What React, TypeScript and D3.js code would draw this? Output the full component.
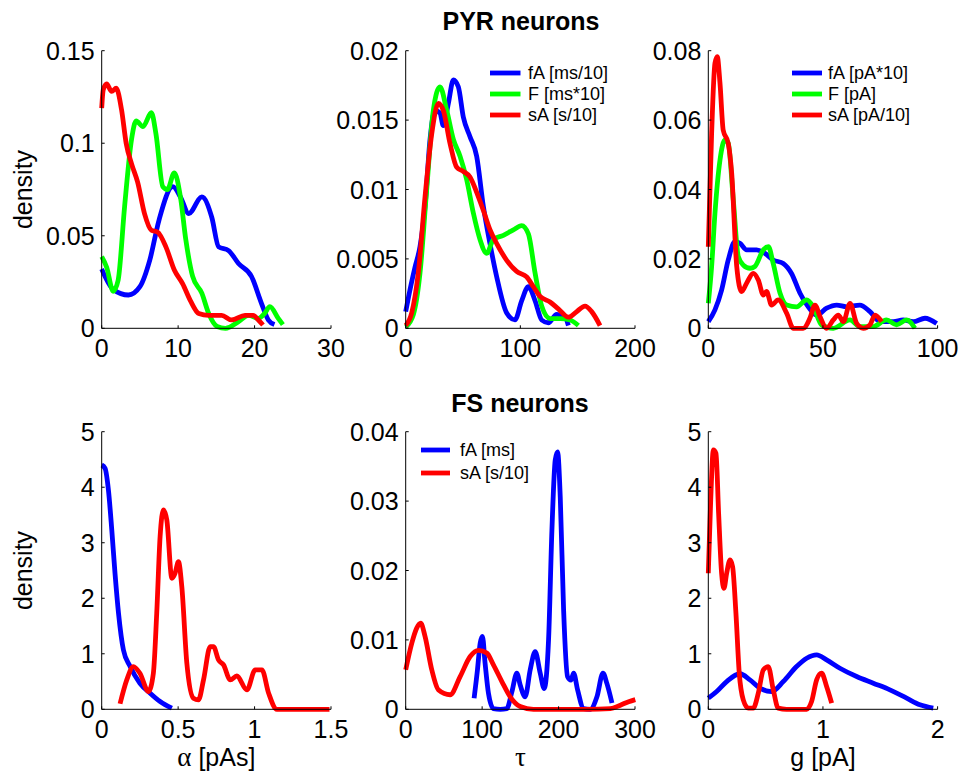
import React from "react";
import * as d3 from "d3";

type Pt = [number, number];

// ---------- PYR: alpha ----------
const pyrAlphaFA: Pt[] = [[0,0.032],[1.5,0.021],[3.5,0.018],[5,0.0225],[6.3,0.037],[7.5,0.0585],[9.3,0.0765],[10.3,0.071],[11.4,0.062],[13.1,0.071],[14.4,0.06],[15.3,0.044],[16.6,0.042],[17.9,0.035],[19.6,0.028],[20.9,0.0135],[21.8,0.0045],[22.6,0.002]];
const pyrAlphaF: Pt[] = [[0,0.0387],[0.65,0.033],[1.5,0.02],[2.15,0.026],[3,0.066],[3.9,0.102],[4.5,0.112],[5.4,0.109],[6.5,0.1165],[7.1,0.105],[8,0.0765],[8.6,0.075],[9.5,0.084],[10.3,0.071],[11,0.048],[11.9,0.028],[13.1,0.019],[14,0.008],[15.1,0.001],[16.2,0],[17.9,0.0036],[19.2,0.007],[20.5,0.0054],[21.3,0.008],[22,0.0117],[23.1,0.0054],[23.7,0.002]];
const pyrAlphaSA: Pt[] = [[0,0.119],[0.2,0.1288],[0.65,0.132],[1.3,0.128],[1.9,0.1297],[2.6,0.118],[3.2,0.1],[3.9,0.089],[4.7,0.079],[5.6,0.062],[6.5,0.053],[7.3,0.052],[8.4,0.044],[9.5,0.0315],[10.6,0.024],[11.6,0.015],[12.7,0.008],[14,0.007],[15.7,0.007],[17,0.0045],[18.75,0.007],[19.8,0.007],[20.5,0.0045],[21.1,0.0018]];

// ---------- PYR: tau ----------
const pyrTauFA: Pt[] = [[0,0.0012],[3.8,0.0028],[8.1,0.0044],[12.5,0.0059],[16.9,0.0088],[21.2,0.0136],[25.6,0.0157],[29.9,0.0155],[32.8,0.0146],[37.2,0.0162],[41.6,0.0179],[45.9,0.0174],[50.3,0.0152],[56.1,0.0138],[61.9,0.0124],[67.7,0.0088],[73.5,0.0061],[79.4,0.0037],[88.1,0.0011],[95.3,0.0006],[101.2,0.002],[107,0.003],[112.8,0.002],[118.6,0.0006],[124.4,0.0004],[131.7,0.001],[139,0.0008],[141.9,0.0002]];
const pyrTauF: Pt[] = [[0,0.0001],[6.7,0.001],[12.5,0.004],[18.3,0.01],[24.1,0.0157],[29.9,0.0174],[35.8,0.0157],[41.6,0.0136],[47.4,0.0124],[53.2,0.0107],[59,0.0083],[64.8,0.0064],[70.6,0.0054],[76.5,0.0064],[85.2,0.0067],[93.9,0.0071],[101.2,0.0074],[107,0.0068],[112.8,0.004],[118.6,0.0016],[125.9,0.0007],[134.6,0.0007],[143.3,0.0006],[150.6,0.0002]];
const pyrTauSA: Pt[] = [[0,0.0002],[5.2,0.0011],[11,0.004],[16.9,0.0095],[22.7,0.014],[28.5,0.0162],[32.8,0.0157],[38.7,0.0133],[44.5,0.0116],[50.3,0.0113],[56.1,0.0109],[61.9,0.0098],[67.7,0.0085],[73.5,0.0071],[79.4,0.0061],[88.1,0.0049],[96.8,0.0041],[105.5,0.0037],[111.3,0.003],[117.2,0.0023],[125.9,0.0019],[133.1,0.0014],[141.9,0.0008],[149.1,0.0012],[156.4,0.0016],[162.2,0.0012],[169.5,0.0002]];

// ---------- PYR: g ----------
const pyrGFA: Pt[] = [[0,0.0019],[2.9,0.0053],[5.8,0.011],[8.7,0.0197],[11.6,0.025],[13.8,0.0245],[16.7,0.0226],[21.1,0.0226],[24.7,0.0216],[28.3,0.0197],[32.7,0.0187],[36.3,0.0158],[40,0.0101],[43.6,0.0062],[47.2,0.0038],[51.6,0.0058],[56,0.0067],[60.3,0.0062],[66.1,0.0067],[70.5,0.0048],[74.9,0.0019],[80.7,0.0019],[85,0.0024],[89.4,0.0019],[94.5,0.0029],[99.6,0.0014]];
const pyrGF: Pt[] = [[0,0.0072],[1.45,0.0178],[2.9,0.0331],[5.1,0.0485],[7.3,0.0543],[8.7,0.0533],[10.9,0.037],[13.1,0.0206],[15.3,0.0182],[18.2,0.0173],[20.3,0.0178],[24,0.0226],[26.2,0.0235],[28.3,0.0187],[31.3,0.0101],[34.2,0.0067],[38.5,0.0062],[42.9,0.0082],[45.8,0.0062],[49.4,0.001],[54.5,0],[61.8,0.0024],[66.1,0.0005],[71.9,0.0005],[77.7,0.0024],[82.1,0.001],[86.5,0.0024],[90.1,0]];
const pyrGSA: Pt[] = [[0,0.0235],[1.45,0.0562],[2.9,0.0764],[3.9,0.0783],[5.1,0.0706],[6.5,0.0571],[8.7,0.0533],[10.2,0.0447],[12.4,0.0178],[14.5,0.0106],[16.7,0.013],[19.6,0.0158],[21.8,0.0139],[24,0.0096],[25.4,0.0106],[27.6,0.0067],[30.5,0.0082],[34.2,0.0043],[37.1,0],[41.4,0],[44.3,0.0029],[46.5,0.0067],[48.7,0.0034],[51.6,0],[54.5,0.0024],[56.7,0.0038],[58.9,0.0019],[61.8,0.0072],[64.7,0.0014],[67.6,0],[70.5,0.001],[72.7,0.0038],[75.6,0.0019]];

// ---------- FS: alpha ----------
const fsAlphaFA: Pt[] = [[0,4.4],[0.022,4.34],[0.044,3.95],[0.066,3.23],[0.087,2.45],[0.11,1.73],[0.142,1.07],[0.186,0.77],[0.25,0.47],[0.317,0.29],[0.382,0.14],[0.459,0.02]];
const fsAlphaSA: Pt[] = [[0.12,0.1],[0.164,0.53],[0.207,0.77],[0.25,0.65],[0.306,0.32],[0.338,0.65],[0.36,1.73],[0.382,3.11],[0.404,3.59],[0.426,3.41],[0.459,2.36],[0.48,2.45],[0.502,2.66],[0.524,2.21],[0.557,0.83],[0.6,0.2],[0.633,0.17],[0.666,0.53],[0.71,1.13],[0.731,1.13],[0.764,0.89],[0.797,0.8],[0.841,0.53],[0.884,0.6],[0.95,0.35],[1.004,0.71],[1.048,0.71],[1.092,0.29],[1.146,0],[1.255,0],[1.43,0],[1.49,0]];

// ---------- FS: tau ----------
const fsTauFA: Pt[] = [[89.5,0.0016],[93.9,0.0057],[97.4,0.0095],[100.4,0.0105],[103.9,0.0066],[108.3,0.0023],[114.8,0.0001],[123.6,0],[132.3,0.0001],[138.9,0.0025],[145.4,0.0052],[149.8,0.0035],[156.3,0.0018],[162.9,0.0057],[169.4,0.0083],[176,0.0052],[181.2,0.003],[186.9,0.01],[191.3,0.0258],[195.6,0.0359],[198.7,0.0371],[202.2,0.0306],[206.6,0.0143],[211.8,0.0047],[216.2,0.0042],[219.7,0.0052],[224.9,0.0028],[232.8,0.0001],[241.5,0],[250.2,0.0018],[258.1,0.0052],[263.3,0.0037],[269.9,0.0009]];
const fsTauSA: Pt[] = [[0,0.0057],[7.9,0.0095],[14.4,0.0117],[19.7,0.0124],[25.3,0.0105],[34.1,0.0057],[42.8,0.0028],[58.1,0.0021],[71.2,0.0047],[84.3,0.0076],[95.2,0.0085],[106.1,0.0081],[114.8,0.0064],[125.8,0.004],[136.7,0.0018],[149.8,0.0004],[167.2,0],[237.1,0],[267.7,0.0001],[280.8,0.0006],[291.7,0.0011],[300.4,0.0014]];

// ---------- FS: g ----------
const fsGFA: Pt[] = [[0,0.2],[0.073,0.32],[0.16,0.5],[0.276,0.64],[0.363,0.53],[0.45,0.38],[0.552,0.32],[0.654,0.5],[0.77,0.77],[0.858,0.92],[0.945,0.98],[1.032,0.89],[1.148,0.74],[1.294,0.59],[1.439,0.47],[1.584,0.35],[1.73,0.2],[1.846,0.08],[1.962,0.02]];
const fsGSA: Pt[] = [[0,2.45],[0.02,3.71],[0.044,4.67],[0.067,4.61],[0.09,3.53],[0.116,2.45],[0.137,2.18],[0.16,2.45],[0.19,2.69],[0.212,2.57],[0.241,1.73],[0.27,0.65],[0.305,0.17],[0.349,0.02],[0.392,0.02],[0.436,0.29],[0.48,0.71],[0.523,0.77],[0.567,0.35],[0.61,0.02],[0.683,0],[0.858,0],[0.901,0.14],[0.945,0.53],[0.988,0.65],[1.032,0.41],[1.076,0.11]];

// ---------- ticks ----------
const xTicks1 = [0, 10, 20, 30];
const yTicks1 = ["0", "0.05", "0.1", "0.15"];
const xTicks2 = [0, 100, 200];
const yTicks2 = ["0", "0.005", "0.01", "0.015", "0.02"];
const xTicks3 = [0, 50, 100];
const yTicks3 = ["0", "0.02", "0.04", "0.06", "0.08"];
const xTicks4 = ["0", "0.5", "1", "1.5"];
const yTicks4 = ["0", "1", "2", "3", "4", "5"];
const xTicks5 = [0, 100, 200, 300];
const yTicks5 = ["0", "0.01", "0.02", "0.03", "0.04"];
const xTicks6 = [0, 1, 2];
const yTicks6 = ["0", "1", "2", "3", "4", "5"];

const legendPyrTau = ["fA [ms/10]", "F [ms*10]", "sA [s/10]"];
const legendPyrG = ["fA [pA*10]", "F [pA]", "sA [pA/10]"];
const legendFsTau = ["fA [ms]", "sA [s/10]"];

const BLUE = "#0000ff";
const GREEN = "#00ff00";
const RED = "#ff0000";
const FONT = "'Liberation Sans', Arial, Helvetica, sans-serif";
const SERIF = "'Liberation Serif', 'DejaVu Serif', serif";

const COLS = [101.7, 405.7, 708.3];
const PW = 229.3;
const ROWS = [50.7, 431.7];
const PH = 277.6;

type Series = { data: Pt[]; color: string };
type Legend = { labels: string[]; colors: string[]; lx0: number; lx1: number; tx: number; ys: number[] };
type XLabel = { greek?: string; rest?: string };

function Panel(props: {
  col: number; row: number; xDomain: [number, number]; yDomain: [number, number];
  xTicks: (number | string)[]; yTicks: string[]; series: Series[];
  ylabel?: string; xlabel?: XLabel; legend?: Legend;
}) {
  const { col, row, xDomain, yDomain, xTicks, yTicks, series, ylabel, xlabel, legend } = props;
  const left = COLS[col];
  const top = ROWS[row];
  const x = d3.scaleLinear().domain(xDomain).range([left, left + PW]);
  const y = d3.scaleLinear().domain(yDomain).range([top + PH, top]);
  const line = d3.line<Pt>().x(d => x(d[0])).y(d => y(d[1])).curve(d3.curveMonotoneX);
  const bottom = top + PH;
  const tl = 3;
  return (
    <g>
      {series.map((s, i) => (
        <path key={i} d={line(s.data) || ""} fill="none" stroke={s.color} strokeWidth={4.8} strokeLinejoin="round" />
      ))}
      <line x1={left} x2={left} y1={top} y2={bottom} stroke="#000" strokeWidth={1} />
      <line x1={left} x2={left + PW} y1={bottom} y2={bottom} stroke="#000" strokeWidth={1} />
      {yTicks.map((t) => (
        <g key={"y" + t}>
          <line x1={left} x2={left + tl} y1={y(+t)} y2={y(+t)} stroke="#000" />
          <text x={left - 7} y={y(+t)} dy="0.36em" textAnchor="end" fontSize={25} fontFamily={FONT}>{t}</text>
        </g>
      ))}
      {xTicks.map((t) => (
        <g key={"x" + t}>
          <line x1={x(+t)} x2={x(+t)} y1={bottom} y2={bottom - tl} stroke="#000" />
          <text x={x(+t)} y={bottom + 29} textAnchor="middle" fontSize={25} fontFamily={FONT}>{String(t)}</text>
        </g>
      ))}
      {ylabel && (
        <text transform={`translate(${left - 70},${top + PH / 2}) rotate(-90)`} textAnchor="middle" fontSize={25} fontFamily={FONT}>{ylabel}</text>
      )}
      {xlabel && (
        <text x={left + PW / 2} y={bottom + 57} textAnchor="middle" fontSize={25} fontFamily={FONT}>
          {xlabel.greek && <tspan fontFamily={SERIF} fontSize={27}>{xlabel.greek}</tspan>}
          {xlabel.rest && <tspan>{xlabel.rest}</tspan>}
        </text>
      )}
      {legend && legend.labels.map((lab, i) => (
        <g key={"l" + i}>
          <line x1={legend.lx0} x2={legend.lx1} y1={legend.ys[i]} y2={legend.ys[i]} stroke={legend.colors[i]} strokeWidth={4.8} />
          <text x={legend.tx} y={legend.ys[i]} dy="0.36em" fontSize={18} fontFamily={FONT}>{lab}</text>
        </g>
      ))}
    </g>
  );
}

export default function App() {
  return (
    <div style={{ position: "absolute", left: 0, top: 0, width: 959, height: 774, background: "#fff" }}>
      <svg width={959} height={774} style={{ display: "block" }}>
        <rect width={959} height={774} fill="#fff" />
        <text x={521} y={30} textAnchor="middle" fontSize={25} fontWeight="bold" fontFamily={FONT}>PYR neurons</text>
        <text x={520} y={412} textAnchor="middle" fontSize={25} fontWeight="bold" fontFamily={FONT}>FS neurons</text>
        <Panel col={0} row={0} xDomain={[0, 30]} yDomain={[0, 0.15]} xTicks={xTicks1} yTicks={yTicks1} ylabel="density"
          series={[{ data: pyrAlphaFA, color: BLUE }, { data: pyrAlphaF, color: GREEN }, { data: pyrAlphaSA, color: RED }]} />
        <Panel col={1} row={0} xDomain={[0, 200]} yDomain={[0, 0.02]} xTicks={xTicks2} yTicks={yTicks2}
          series={[{ data: pyrTauFA, color: BLUE }, { data: pyrTauF, color: GREEN }, { data: pyrTauSA, color: RED }]}
          legend={{ labels: legendPyrTau, colors: [BLUE, GREEN, RED], lx0: 490, lx1: 520.5, tx: 528, ys: [73, 94, 115] }} />
        <Panel col={2} row={0} xDomain={[0, 100]} yDomain={[0, 0.08]} xTicks={xTicks3} yTicks={yTicks3}
          series={[{ data: pyrGFA, color: BLUE }, { data: pyrGF, color: GREEN }, { data: pyrGSA, color: RED }]}
          legend={{ labels: legendPyrG, colors: [BLUE, GREEN, RED], lx0: 792, lx1: 822, tx: 828, ys: [73, 94, 115] }} />
        <Panel col={0} row={1} xDomain={[0, 1.5]} yDomain={[0, 5]} xTicks={xTicks4} yTicks={yTicks4} ylabel="density" xlabel={{ greek: "α", rest: " [pAs]" }}
          series={[{ data: fsAlphaFA, color: BLUE }, { data: fsAlphaSA, color: RED }]} />
        <Panel col={1} row={1} xDomain={[0, 300]} yDomain={[0, 0.04]} xTicks={xTicks5} yTicks={yTicks5} xlabel={{ greek: "τ" }}
          series={[{ data: fsTauFA, color: BLUE }, { data: fsTauSA, color: RED }]}
          legend={{ labels: legendFsTau, colors: [BLUE, RED], lx0: 421, lx1: 450, tx: 460, ys: [450, 473] }} />
        <Panel col={2} row={1} xDomain={[0, 2]} yDomain={[0, 5]} xTicks={xTicks6} yTicks={yTicks6} xlabel={{ rest: "g [pA]" }}
          series={[{ data: fsGFA, color: BLUE }, { data: fsGSA, color: RED }]} />
      </svg>
    </div>
  );
}
